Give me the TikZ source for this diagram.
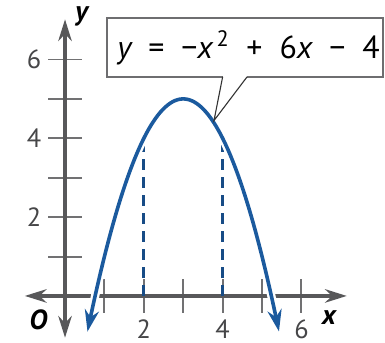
\documentclass[tikz,border=0pt]{standalone}
\usepackage{fontspec}
\setmainfont{PT Sans}
\usetikzlibrary{arrows.meta}
\definecolor{axisgray}{HTML}{58585A}
\definecolor{curveblue}{HTML}{1B5A9E}
\definecolor{boxgray}{HTML}{6E6E70}
\tikzset{
  axisline/.style={draw=axisgray, line width=2.6pt, {Stealth[length=5.5mm,width=3.4mm]}-{Stealth[length=5.5mm,width=3.4mm]}},
  tickline/.style={draw=axisgray!85, line width=1.4pt},
  ticklabel/.style={font=\fontsize{19}{21}\selectfont, text=axisgray!80!black, inner sep=0pt},
  axislabel/.style={font=\fontsize{20}{22}\selectfont\bfseries\itshape, inner sep=0pt},
  halo/.style={draw=white, line width=6pt},
  curve/.style={draw=curveblue, line width=2.6pt, {Stealth[length=5.5mm,width=3.6mm]}-{Stealth[length=5.5mm,width=3.6mm]}},
  dashline/.style={draw=curveblue!85!black, line width=2.4pt, dash pattern=on 8pt off 5pt},
  callout/.style={draw=boxgray, line width=1.6pt, fill=white, line join=miter},
  pointer/.style={draw=black!80, line width=0.8pt}
}
\begin{document}
\begin{tikzpicture}
\useasboundingbox (-1.65,-1.19) rectangle (8.12,7.51);
\fill[white] (-1.65,-1.19) rectangle (8.12,7.51);
% ticks
\foreach \t in {1,...,6} {
  \draw[tickline] (-0.43,\t) -- (0.43,\t);
  \draw[tickline] (\t,-0.43) -- (\t,0.43);
}
% axes
\coordinate (xl) at (-1.02,0);
\coordinate (xr) at (7.15,0);
\coordinate (yb) at (0,-1.06);
\coordinate (yt) at (0,7.02);
\draw[axisline] (xl) -- (xr);
\draw[axisline] (yb) -- (yt);
% tick labels
\node[ticklabel, anchor=east] (l6) at (-0.6,6) {6};
\node[ticklabel, anchor=east] (l4) at (-0.6,4) {4};
\node[ticklabel, anchor=east] (l2) at (-0.6,2) {2};
\node[ticklabel] (b2) at (2,-0.84) {2};
\node[ticklabel] (b4) at (4,-0.84) {4};
\node[ticklabel] (b6) at (6,-0.84) {6};
\node[axislabel] (ylab) at (0.42,7.1) {y};
\node[axislabel] (xlab) at (6.7,-0.55) {x};
\node[axislabel] (olab) at (-0.68,-0.6) {O};
% dashed lines
\coordinate (d2a) at (2,0);
\coordinate (d2b) at (2,4);
\coordinate (d4a) at (4,0);
\coordinate (d4b) at (4,4);
\draw[dashline] (d2a) -- (d2b);
\draw[dashline] (d4a) -- (d4b);
% parabola
\draw[halo] plot[domain=0.62:5.38, samples=80, smooth] (\x,{-\x*\x+6*\x-4});
\draw[curve] plot[domain=0.57:5.43, samples=80, smooth] (\x,{-\x*\x+6*\x-4});
% callout
\coordinate (tip) at (3.78,4.45);
\draw[callout] (4.0,5.56) -- (1.07,5.56) -- (1.07,7.06) -- (8.07,7.06) -- (8.07,5.56) -- (4.62,5.56);
\draw[pointer] (4.0,5.56) -- (tip) -- (4.62,5.56);
\node[font=\fontsize{23}{25}\selectfont, inner sep=0pt, anchor=west] (eq) at (1.32,6.3)
  {\itshape y\upshape\ \ =\ \ −\itshape x\upshape\textsuperscript{\,2}\ \ +\ \ 6\itshape x\upshape\ \ −\ \ 4};
\end{tikzpicture}
\end{document}
